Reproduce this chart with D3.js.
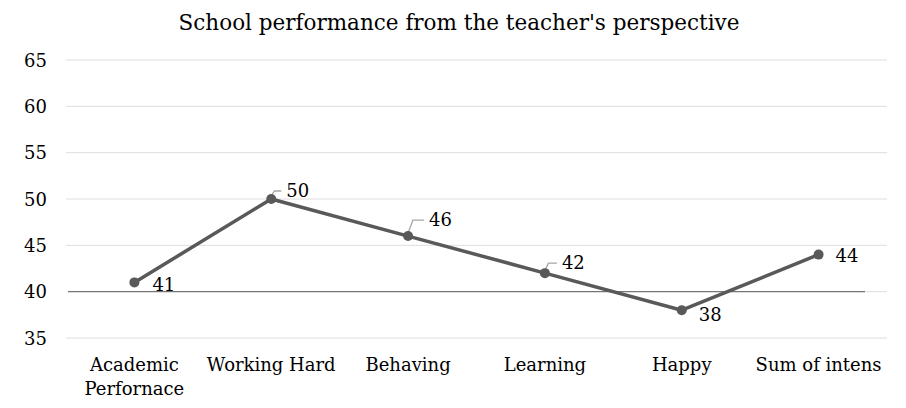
<!DOCTYPE html>
<html><head><meta charset="utf-8">
<script src="https://cdn.jsdelivr.net/npm/d3@7"></script>
<style>body{margin:0;background:#fff}</style>
</head><body>
<svg id="c" width="906" height="408"></svg>
<script>
const title = "School performance from the teacher's perspective";
const categories = ["Academic Perfornace", "Working Hard", "Behaving", "Learning", "Happy", "Sum of intens"];
const values = [41, 50, 46, 42, 38, 44];
const yTicks = [35, 40, 45, 50, 55, 60, 65];

// label placement (layout only)
const labelLayout = [
  {dx: 18, dy: 2, leader: false},
  {dx: 15, dy: -8, leader: true},
  {dx: 21, dy: -16, leader: true},
  {dx: 17, dy: -10, leader: true},
  {dx: 17, dy: 4, leader: false},
  {dx: 17, dy: 1, leader: false}
];

const font = "'DejaVu Serif', serif";
const svg = d3.select("#c");
const L = 66, R = 887;
const x = d3.scaleBand().domain(categories).range([L, R]);
const y = d3.scaleLinear().domain([35, 65]).range([338, 60]);

svg.append("text").attr("x", 459).attr("y", 30).attr("text-anchor", "middle")
  .attr("font-family", font).attr("font-size", 21.5).attr("fill", "#000").text(title);

// gridlines
svg.append("g").selectAll("line").data(yTicks.filter(d => d !== 40)).join("line")
  .attr("x1", L).attr("x2", R).attr("y1", d => y(d)).attr("y2", d => y(d))
  .attr("stroke", "#dedede").attr("stroke-width", 1);
svg.append("line").attr("x1", 860).attr("x2", R).attr("y1", y(40)).attr("y2", y(40))
  .attr("stroke", "#dedede");
// category axis crossing at 40
svg.append("line").attr("x1", 68).attr("x2", 865).attr("y1", y(40)).attr("y2", y(40))
  .attr("stroke", "#757575").attr("stroke-width", 1.2);

// y axis labels
const yAxis = d3.axisLeft(y).tickValues(yTicks).tickSize(0).tickPadding(0);
const gy = svg.append("g").attr("transform", "translate(47,0)").call(yAxis);
gy.select(".domain").remove();
gy.selectAll("text").attr("font-family", font).attr("font-size", 18).attr("fill", "#000").attr("dy", "0.35em");

// category labels
const gx = svg.append("g");
categories.forEach(c => {
  const words = c === "Academic Perfornace" ? ["Academic", "Perfornace"] : [c];
  words.forEach((w, i) => {
    gx.append("text").attr("x", x(c) + x.bandwidth() / 2).attr("y", 371 + i * 24)
      .attr("text-anchor", "middle").attr("font-family", font).attr("font-size", 18)
      .attr("fill", "#000").text(w);
  });
});

const cx = (d, i) => x(categories[i]) + x.bandwidth() / 2;
const line = d3.line().x((d, i) => cx(d, i)).y(d => y(d));
svg.append("path").datum(values).attr("d", line).attr("fill", "none")
  .attr("stroke", "#595959").attr("stroke-width", 3.5).attr("stroke-linejoin", "round");

// leaders
values.forEach((v, i) => {
  const lay = labelLayout[i];
  if (!lay.leader) return;
  const px = cx(v, i), py = y(v);
  const lx = px + lay.dx - 5, ly = py + lay.dy;
  svg.append("polyline")
    .attr("points", `${px},${py - 3} ${px + (lay.dx - 5) * 0.3},${ly} ${lx},${ly}`)
    .attr("fill", "none").attr("stroke", "#a6a6a6").attr("stroke-width", 1.3);
});

svg.append("g").selectAll("circle").data(values).join("circle")
  .attr("cx", (d, i) => cx(d, i)).attr("cy", d => y(d)).attr("r", 5).attr("fill", "#595959");

svg.append("g").selectAll("text").data(values).join("text")
  .attr("x", (d, i) => cx(d, i) + labelLayout[i].dx)
  .attr("y", (d, i) => y(d) + labelLayout[i].dy)
  .attr("dy", "0.35em").attr("font-family", font).attr("font-size", 18).attr("fill", "#000")
  .text(d => d);
</script>
</body></html>
